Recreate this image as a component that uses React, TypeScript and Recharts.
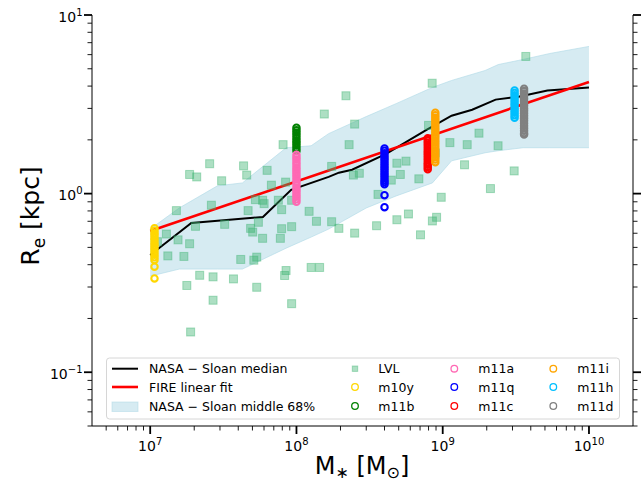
import React from "react";
import { ComposedChart, XAxis, YAxis, Scatter, Line, Area } from "recharts";

const W = 641;
const H = 482;
const FONT = "'DejaVu Sans', sans-serif";

// NASA-Sloan median size-mass relation
const medianMass = [1e7, 1.91e7, 5.9e7, 9.2e7, 1.66e8, 1.95e8, 2.4e8, 4.1e8, 7.8e8, 1.15e9, 1.59e9, 2.3e9, 3.3e9, 5.2e9, 1e10];
const medianRe = [0.453, 0.684, 0.74, 1.05, 1.24, 1.31, 1.36, 1.67, 2.28, 2.73, 2.95, 3.36, 3.49, 3.78, 3.93];

// FIRE linear fit (straight in log-log)
const fitMass = [1e7, 1e10];
const fitRe = [0.617, 4.22];

// NASA-Sloan middle 68%
const bandMass = [1e7, 1.58e7, 2.88e7, 4.27e7, 8.5e7, 1.26e8, 1.66e8, 3.0e8, 4.8e8, 8.5e8, 1.15e9, 1.95e9, 2.4e9, 3.55e9, 5.4e9, 1e10];
const bandLow = [0.345, 0.378, 0.378, 0.378, 0.495, 0.571, 0.633, 0.831, 0.97, 1.148, 1.526, 1.693, 1.738, 1.807, 1.807, 1.807];
const bandHigh = [0.633, 0.831, 1.105, 1.148, 1.807, 1.853, 2.167, 2.7, 3.19, 3.93, 4.3, 4.89, 5.28, 5.64, 6.09, 6.67];

// LVL galaxies
const lvlMass = [
  1.55e8, 8.1e7, 2.55e7, 1.86e7, 2.08e7, 4.35e7, 4.57e7, 6.3e7, 3.08e7, 6.74e7,
  8.43e7, 5.24e7, 5.87e7, 6.01e7, 7.52e7, 9.27e7, 1.51e7, 2.62e7, 4.67e7, 7.92e7,
  1.22e8, 1.37e8, 2.04e7, 3.23e7, 4.86e7, 5.02e7, 5.49e7, 7.92e7, 9.27e7, 1.29e7,
  1.55e7, 1.86e7, 5.87e7, 7.76e7, 1.12e7, 1.32e7, 1.7e7, 4.16e7, 5.11e7, 5.35e7,
  2.18e7, 2.69e7, 3.71e7, 8.49e7, 8.3e7, 1.26e8, 1.44e8, 1.78e7, 5.35e7, 2.69e7,
  9.27e7, 1.89e7, 3.7e9, 8.47e8, 2.18e8, 2.5e8, 8.0e8, 2.29e8, 1.77e9, 1.12e9,
  1.47e9, 2.39e9, 8.9e8, 4.86e8, 5.61e8, 1.41e9, 1.74e8, 2.45e8, 2.69e8, 5.13e8,
  4.45e8, 6.87e8, 3.08e9, 3.61e8, 9.77e8, 2.12e9, 5.83e8, 4.86e8, 9.08e8, 8.5e8,
  3.53e8, 1.74e8, 1.95e8, 2.5e8, 7.05e8,
];
const lvlRe = [
  2.79, 1.88, 1.47, 1.28, 1.24, 1.43, 1.27, 1.35, 1.18, 1.115,
  1.16, 0.925, 0.918, 0.879, 0.918, 0.918, 0.803, 0.861, 0.803, 0.813,
  0.796, 0.7, 0.656, 0.673, 0.639, 0.609, 0.691, 0.636, 0.653, 0.594,
  0.551, 0.524, 0.562, 0.562, 0.538, 0.448, 0.445, 0.428, 0.424, 0.441,
  0.349, 0.342, 0.333, 0.371, 0.348, 0.386, 0.386, 0.306, 0.299, 0.253,
  0.242, 0.168, 5.86, 4.15, 3.53, 2.45, 2.41, 1.88, 2.18, 1.93,
  1.88, 1.853, 1.69, 1.48, 1.52, 1.45, 1.42, 1.27, 1.3, 1.28,
  1.19, 1.21, 1.34, 0.99, 0.954, 1.067, 0.769, 0.714, 0.737, 0.703,
  0.661, 0.696, 0.639, 0.601, 0.588,
];

// FIRE simulations: each is a column of snapshots at one stellar mass
const simNames = ["m10y", "m11b", "m11a", "m11q", "m11c", "m11i", "m11h", "m11d"];
const simColors = ["#FFD700", "#008000", "#FF69B4", "#0000FF", "#FF0000", "#FFA500", "#00BFFF", "#808080"];
const simMass = [1.07e7, 1e8, 1e8, 4.0e8, 7.9e8, 8.9e8, 3.1e9, 3.6e9];
const m10yRe = [0.64, 0.62, 0.6, 0.585, 0.565, 0.55, 0.53, 0.515, 0.5, 0.485, 0.47, 0.455, 0.44, 0.425, 0.39, 0.335];
const m11bRe = [2.34, 2.26, 2.19, 2.12, 2.05, 1.98, 1.92, 1.86, 1.8, 1.74];
const m11aRe = [1.65, 1.6, 1.55, 1.5, 1.45, 1.4, 1.36, 1.32, 1.28, 1.24, 1.2, 1.16, 1.12, 1.08, 1.05, 1.02, 0.99, 0.96, 0.93, 0.9];
const m11qRe = [1.79, 1.74, 1.68, 1.63, 1.58, 1.53, 1.48, 1.43, 1.39, 1.35, 1.31, 1.27, 1.23, 1.19, 1.16, 1.13, 0.98, 0.84];
const m11cRe = [2.04, 1.98, 1.92, 1.86, 1.8, 1.74, 1.69, 1.64, 1.59, 1.54, 1.49, 1.45, 1.41, 1.37];
const m11iRe = [2.84, 2.75, 2.66, 2.58, 2.5, 2.42, 2.34, 2.27, 2.2, 2.13, 2.06, 1.99, 1.93, 1.87, 1.81, 1.75, 1.7, 1.65, 1.6, 1.55, 1.5];
const m11hRe = [3.78, 3.66, 3.55, 3.44, 3.33, 3.22, 3.12, 3.02, 2.93, 2.84, 2.75, 2.66];
const m11dRe = [3.87, 3.75, 3.63, 3.52, 3.41, 3.3, 3.2, 3.1, 3.0, 2.91, 2.82, 2.73, 2.64, 2.56, 2.48, 2.4, 2.32, 2.25, 2.18, 2.14];
const simRe = [m10yRe, m11bRe, m11aRe, m11qRe, m11cRe, m11iRe, m11hRe, m11dRe];

const xTicks = [
  5e6, 6e6, 7e6, 8e6, 9e6,
  1e7, 2e7, 3e7, 4e7, 5e7, 6e7, 7e7, 8e7, 9e7,
  1e8, 2e8, 3e8, 4e8, 5e8, 6e8, 7e8, 8e8, 9e8,
  1e9, 2e9, 3e9, 4e9, 5e9, 6e9, 7e9, 8e9, 9e9,
  1e10,
];
const yTicks = [
  0.05, 0.06, 0.07, 0.08, 0.09,
  0.1, 0.2, 0.3, 0.4, 0.5, 0.6, 0.7, 0.8, 0.9,
  1, 2, 3, 4, 5, 6, 7, 8, 9,
  10,
];

const medianData = medianMass.map((m, i) => ({ m, r: medianRe[i] }));
const fitData = fitMass.map((m, i) => ({ m, r: fitRe[i] }));
const bandData = bandMass.map((m, i) => ({ m, range: [bandLow[i], bandHigh[i]] }));
const lvlData = lvlMass.map((m, i) => ({ m, r: lvlRe[i] }));

const isMajor = (v: number) => Math.abs(Math.log10(v) - Math.round(Math.log10(v))) < 1e-6;
const expText = (v: number) => {
  const e = Math.round(Math.log10(v));
  return e < 0 ? `\u2212${-e}` : `${e}`;
};

const BottomTick = (props: any) => {
  const { x, y, payload } = props;
  const major = isMajor(payload.value);
  return (
    <g>
      <line x1={x} x2={x} y1={y} y2={y + (major ? 8 : 4.5)} stroke="#000" strokeWidth={major ? 1.8 : 0.9} />
      {major && (
        <text x={x} y={y + 25} textAnchor="middle" fontSize={14} fontFamily={FONT} fill="#000">
          10<tspan dy={-6} fontSize={10}>{expText(payload.value)}</tspan>
        </text>
      )}
    </g>
  );
};

const LeftTick = (props: any) => {
  const { x, y, payload } = props;
  const major = isMajor(payload.value);
  return (
    <g>
      <line x1={x - (major ? 8 : 4.5)} x2={x} y1={y} y2={y} stroke="#000" strokeWidth={major ? 1.8 : 0.9} />
      {major && (
        <text x={x - 9.5} y={y + 6.5} textAnchor="end" fontSize={14} fontFamily={FONT} fill="#000">
          10<tspan dy={-6} fontSize={10}>{expText(payload.value)}</tspan>
        </text>
      )}
    </g>
  );
};

const RightTick = (props: any) => {
  const { x, y, payload } = props;
  const major = isMajor(payload.value);
  return (
    <line x1={x} x2={x + (major ? 8 : 4.5)} y1={y} y2={y} stroke="#000" strokeWidth={major ? 1.8 : 0.9} />
  );
};

const lvlSquare = (p: any) => (
  <rect
    x={p.cx - 4}
    y={p.cy - 4}
    width={8}
    height={8}
    fill="#3CB371"
    fillOpacity={0.42}
    stroke="#3CB371"
    strokeOpacity={0.42}
    strokeWidth={1}
  />
);

const ring = (color: string) => (p: any) => (
  <circle cx={p.cx} cy={p.cy} r={3.2} fill="none" stroke={color} strokeWidth={2.1} />
);

const LegendBox = () => {
  const rowY = [368.7, 387, 406];
  const colMarker = [355, 454.3, 553.3];
  const colText = [378.3, 478.3, 577.3];
  const rightItems = ["LVL", ...simNames];
  return (
    <svg width={W} height={H} style={{ position: "absolute", left: 0, top: 0, pointerEvents: "none" }}>
      <rect x={106.5} y={358} width={513} height={61} rx={3} fill="#fff" fillOpacity={0.8} stroke="#d6d6d6" strokeWidth={1} />
      <line x1={112} x2={138} y1={rowY[0]} y2={rowY[0]} stroke="#000" strokeWidth={2} />
      <line x1={112} x2={138} y1={rowY[1]} y2={rowY[1]} stroke="#FF0000" strokeWidth={2.6} />
      <rect x={112} y={402} width={26} height={9.5} fill="#ADD8E6" fillOpacity={0.5} stroke="#ADD8E6" strokeOpacity={0.5} />
      {["NASA \u2212 Sloan median", "FIRE linear fit", "NASA \u2212 Sloan middle 68%"].map((t, i) => (
        <text key={t} x={149} y={rowY[i] + 4.6} fontSize={12.5} fontFamily={FONT} fill="#000">
          {t}
        </text>
      ))}
      {rightItems.map((name, k) => {
        const col = Math.floor(k / 3);
        const row = k % 3;
        const cx = colMarker[col];
        const cy = rowY[row];
        return (
          <g key={name}>
            {k === 0 ? (
              <rect x={cx - 2.7} y={cy - 2.7} width={5.4} height={5.4} fill="#3CB371" fillOpacity={0.42} stroke="#3CB371" strokeOpacity={0.42} />
            ) : (
              <circle cx={cx} cy={cy} r={3.3} fill="none" stroke={simColors[k - 1]} strokeWidth={1.3} />
            )}
            <text x={colText[col]} y={cy + 4.6} fontSize={12.5} fontFamily={FONT} fill="#000">
              {name}
            </text>
          </g>
        );
      })}
      <text x={362} y={474} textAnchor="middle" fontSize={24} fontFamily={FONT} fill="#000">
        M<tspan dy={4} fontSize={16}>{"\u2217"}</tspan>
        <tspan dy={-4}> [M</tspan>
        <tspan dy={4} fontSize={16}>{"\u2299"}</tspan>
        <tspan dy={-4}>]</tspan>
      </text>
      <text x={39} y={216} transform="rotate(-90 39 216)" textAnchor="middle" fontSize={25} fontFamily={FONT} fill="#000">
        R<tspan dy={6} fontSize={17}>e</tspan>
        <tspan dy={-6}> [kpc]</tspan>
      </text>
    </svg>
  );
};

export default function App() {
  return (
    <div style={{ position: "absolute", left: 0, top: 0, width: W, height: H, background: "#fff" }}>
      <ComposedChart width={W} height={H} margin={{ top: 15, right: 0, bottom: 0, left: 0 }}>
        <XAxis
          xAxisId="bottom"
          dataKey="m"
          type="number"
          scale="log"
          domain={[4e6, 2e10]}
          allowDataOverflow
          ticks={xTicks}
          interval={0}
          tick={<BottomTick />}
          tickLine={false}
          tickSize={0}
          tickMargin={0}
          height={56}
          axisLine={{ stroke: "#000", strokeWidth: 1 }}
        />
        <XAxis
          xAxisId="top"
          orientation="top"
          dataKey="m"
          type="number"
          scale="log"
          domain={[4e6, 2e10]}
          allowDataOverflow
          tick={false}
          tickLine={false}
          height={0}
          axisLine={{ stroke: "#000", strokeWidth: 1 }}
        />
        <YAxis
          yAxisId="left"
          dataKey="r"
          type="number"
          scale="log"
          domain={[0.05, 10]}
          allowDataOverflow
          ticks={yTicks}
          interval={0}
          tick={<LeftTick />}
          tickLine={false}
          tickSize={0}
          tickMargin={0}
          width={92}
          axisLine={{ stroke: "#000", strokeWidth: 1 }}
        />
        <YAxis
          yAxisId="right"
          orientation="right"
          dataKey="r"
          type="number"
          scale="log"
          domain={[0.05, 10]}
          allowDataOverflow
          ticks={yTicks}
          interval={0}
          tick={<RightTick />}
          tickLine={false}
          tickSize={0}
          tickMargin={0}
          width={8}
          axisLine={{ stroke: "#000", strokeWidth: 1 }}
        />
        <Area
          xAxisId="bottom"
          yAxisId="left"
          data={bandData}
          dataKey="range"
          type="linear"
          fill="#ADD8E6"
          fillOpacity={0.5}
          stroke="#ADD8E6"
          strokeOpacity={0.6}
          strokeWidth={1}
          dot={false}
          activeDot={false}
          isAnimationActive={false}
        />
        <Scatter
          xAxisId="bottom"
          yAxisId="left"
          name="LVL"
          data={lvlData}
          dataKey="r"
          shape={lvlSquare}
          isAnimationActive={false}
        />
        {simNames.map((name, i) => (
          <Scatter
            key={name}
            xAxisId="bottom"
            yAxisId="left"
            name={name}
            data={simRe[i].map((r) => ({ m: simMass[i], r }))}
            dataKey="r"
            shape={ring(simColors[i])}
            isAnimationActive={false}
          />
        ))}
        <Line
          xAxisId="bottom"
          yAxisId="left"
          data={medianData}
          dataKey="r"
          type="linear"
          stroke="#000"
          strokeWidth={2}
          dot={false}
          activeDot={false}
          isAnimationActive={false}
        />
        <Line
          xAxisId="bottom"
          yAxisId="left"
          data={fitData}
          dataKey="r"
          type="linear"
          stroke="#FF0000"
          strokeWidth={2.6}
          dot={false}
          activeDot={false}
          isAnimationActive={false}
        />
      </ComposedChart>
      <LegendBox />
    </div>
  );
}
